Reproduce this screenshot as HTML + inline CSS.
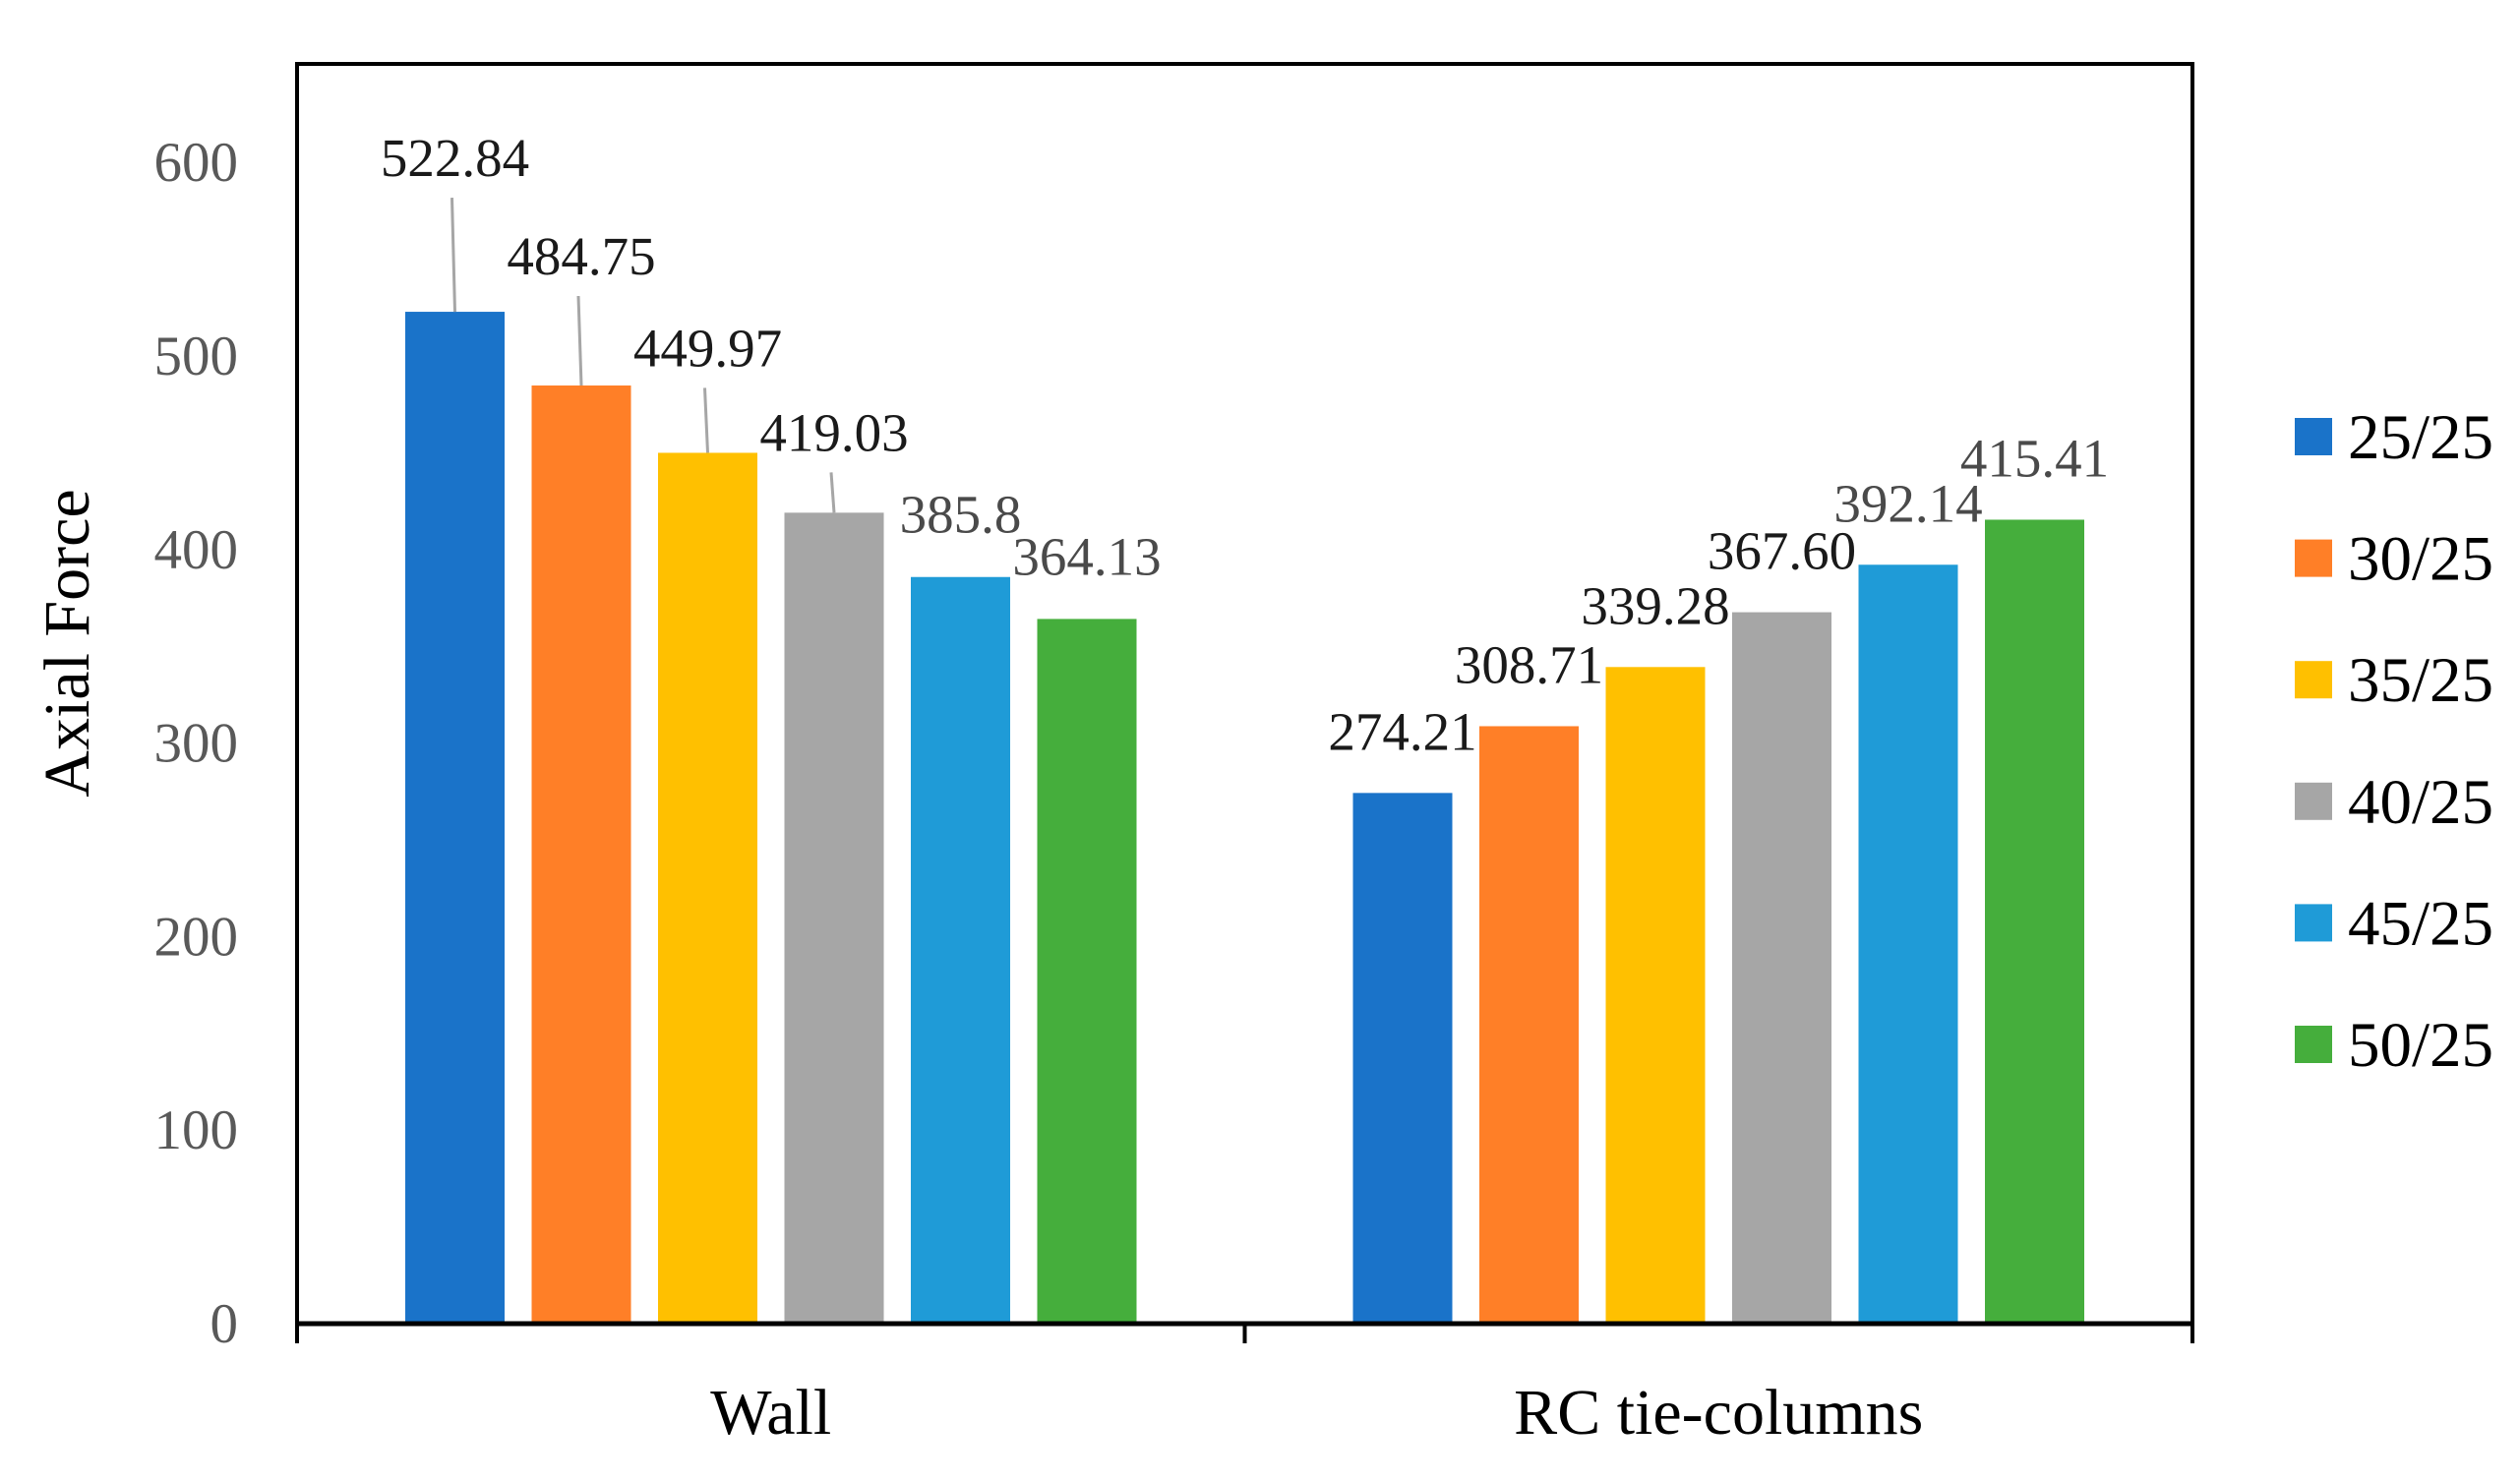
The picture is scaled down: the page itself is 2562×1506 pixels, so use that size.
<!DOCTYPE html>
<html><head><meta charset="utf-8"><style>
html,body{margin:0;padding:0;background:#fff;}
svg{display:block;font-family:"Liberation Serif",serif;}
</style></head><body>
<svg id="chart" width="2562" height="1506" viewBox="0 0 2562 1506" xmlns="http://www.w3.org/2000/svg"></svg>
<script>
const categories = ["Wall", "RC tie-columns"];
const seriesNames = ["25/25", "30/25", "35/25", "40/25", "45/25", "50/25"];
const wallValues = [522.84, 484.75, 449.97, 419.03, 385.8, 364.13];
const rcValues = [274.21, 308.71, 339.28, 367.60, 392.14, 415.41];
const wallLabels = ["522.84", "484.75", "449.97", "419.03", "385.8", "364.13"];
const rcLabels = ["274.21", "308.71", "339.28", "367.60", "392.14", "415.41"];
const yTicks = [0, 100, 200, 300, 400, 500, 600];
const colors = ["#1a73c9", "#ff7f27", "#ffc000", "#a6a6a6", "#1f9bd7", "#45ae3c"];

const NS = "http://www.w3.org/2000/svg";
const svg = document.getElementById("chart");
const L = 302, R = 2229, TOP = 65, BASE = 1346;
const PX_PER_UNIT = 1.968;
function y(v){ return BASE - v * PX_PER_UNIT; }
const catW = (R - L) / categories.length;
function catCenter(i){ return L + catW * (i + 0.5); }
const barW = 101, pitch = 128.5;
function barX(ci, si){ return catCenter(ci) - pitch * (seriesNames.length - 1) / 2 + pitch * si - barW / 2; }
function mk(tag, attrs){ const e = document.createElementNS(NS, tag); for (const k in attrs) e.setAttribute(k, attrs[k]); svg.appendChild(e); return e; }

const frame = mk("rect", {x: L, y: TOP, width: R - L, height: BASE - TOP, fill: "none", stroke: "#000", "stroke-width": 4});



yTicks.forEach(t => {
  const tx = mk("text", {x: 242, y: y(t) + 19, "text-anchor": "end", "font-size": 57, fill: "#595959"});
  tx.textContent = t;
  
  
});
const yt = mk("text", {x: 0, y: 0, "text-anchor": "middle", "font-size": 66, fill: "#000", transform: "translate(90,654) rotate(-90)"});
yt.textContent = "Axial Force";



const allValues = [wallValues, rcValues];
const allLabels = [wallLabels, rcLabels];
const labelColors = ["#1a1a1a","#1a1a1a","#1a1a1a","#1a1a1a","#4a4a4a","#4a4a4a"];
for (let ci = 0; ci < categories.length; ci++) {
  for (let si = 0; si < seriesNames.length; si++) {
    const v = allValues[ci][si];
    const x = barX(ci, si);
    const b = mk("rect", {x: x, y: y(v), width: barW, height: BASE - y(v), fill: colors[si]});
    
    
    const cx = x + barW / 2;
    let lx = cx, ly;
    if (ci === 0 && si < 4) {
      ly = y(v) - 138 + si * 25;
      const ln = mk("line", {x1: cx - 3, y1: ly + 22, x2: cx, y2: y(v), stroke: "#a6a6a6", "stroke-width": 3});
      
      
    } else if (ci === 0) {
      ly = y(v) - 45;
    } else {
      ly = y(v) - 44;
    }
    const lt = mk("text", {x: lx, y: ly, "text-anchor": "middle", "font-size": 55, fill: labelColors[si]});
    lt.textContent = allLabels[ci][si];
    
    
  }
}

const ax = mk("line", {x1: L - 2, y1: BASE, x2: R + 2, y2: BASE, stroke: "#000", "stroke-width": 5});


for (let i = 0; i <= categories.length; i++) {
  const tk = mk("line", {x1: L + catW * i, y1: BASE, x2: L + catW * i, y2: BASE + 20, stroke: "#000", "stroke-width": 4});
  
  
}
categories.forEach((c, i) => {
  const t = mk("text", {x: catCenter(i), y: 1458, "text-anchor": "middle", "font-size": 66, fill: "#000"});
  t.textContent = c;
  
  
});

const legendY0 = 444, legendStep = 123.6;
seriesNames.forEach((n, i) => {
  const cy = legendY0 + legendStep * i;
  const sw = mk("rect", {x: 2333, y: cy - 19, width: 38, height: 38, fill: colors[i]});
  
  
  const t = mk("text", {x: 2387, y: cy + 22, "font-size": 65, fill: "#000"});
  t.textContent = n;
  
  
});
</script>
</body></html>
